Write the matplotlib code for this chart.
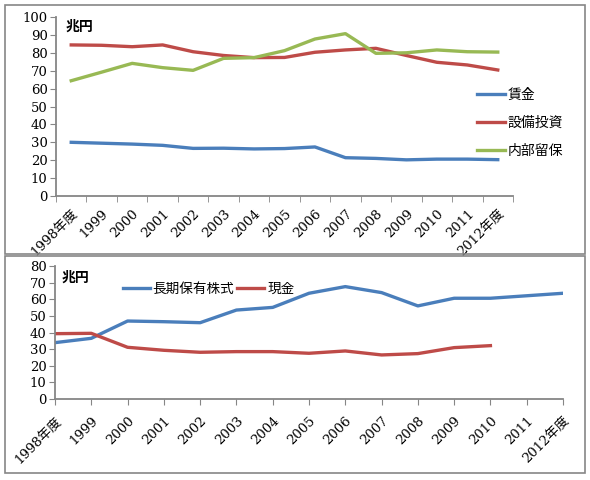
import matplotlib
matplotlib.use('Agg')
import matplotlib.pyplot as plt
from matplotlib.patches import Rectangle

plt.rcParams['font.family'] = ['DejaVu Serif', 'Noto Sans CJK JP']

years = ['1998年度', '1999', '2000', '2001', '2002', '2003', '2004', '2005',
         '2006', '2007', '2008', '2009', '2010', '2011', '2012年度']

# upper chart
wages = [30.0, 29.5, 29.0, 28.3, 26.6, 26.7, 26.3, 26.5, 27.4, 21.4, 21.0, 20.2, 20.6, 20.6, 20.3]
capex = [84.4, 84.2, 83.4, 84.4, 80.6, 78.5, 77.3, 77.4, 80.3, 81.6, 82.5, 78.5, 74.7, 73.2, 70.4]
retained = [64.4, 69.2, 74.1, 71.7, 70.2, 76.9, 77.3, 81.2, 87.7, 90.7, 79.7, 80.0, 81.6, 80.6, 80.4]

# lower chart
stocks = [33.9, 36.5, 46.9, 46.5, 45.9, 53.5, 55.1, 63.6, 67.6, 64.0, 56.0, 60.6, 60.6, 62.1, 63.6]
cash = [39.3, 39.5, 31.1, 29.3, 28.1, 28.5, 28.5, 27.5, 28.9, 26.5, 27.3, 30.9, 32.1]

BLUE = '#4A7EBB'
RED = '#BE4B48'
GREEN = '#98B954'
GRAY = '#868686'
W, H = 590, 480
LW = 2.4

fig = plt.figure(figsize=(W / 100, H / 100), dpi=100)


def fbox(x0, y0, x1, y1):
    # pixel box (top-left origin) -> figure fraction rect
    return [x0 / W, 1 - y1 / H, (x1 - x0) / W, (y1 - y0) / H]


for (x0, y0, x1, y1) in [(5, 5, 585, 254), (5, 256, 585, 473)]:
    b = fbox(x0, y0, x1, y1)
    fig.patches.append(Rectangle((b[0], b[1]), b[2], b[3], transform=fig.transFigure,
                                 fill=False, edgecolor=GRAY, linewidth=1.2))


def style(ax):
    for s in ['top', 'right']:
        ax.spines[s].set_visible(False)
    for s in ['left', 'bottom']:
        ax.spines[s].set_color(GRAY)
        ax.spines[s].set_linewidth(1.3)
    ax.tick_params(axis='y', direction='out', length=4, color=GRAY, labelsize=9.5, pad=2)
    ax.tick_params(axis='x', which='both', direction='out', color=GRAY, labelsize=9.5)
    ax.patch.set_alpha(0)


# ---- upper chart
ax1 = fig.add_axes(fbox(56, 17, 513, 196))
idx = list(range(len(years)))
ax1.plot(idx, wages, color=BLUE, lw=LW, label='賃金')
ax1.plot(idx, capex, color=RED, lw=LW, label='設備投資')
ax1.plot(idx, retained, color=GREEN, lw=LW, label='内部留保')
ax1.set_xlim(-0.5, len(years) - 0.5)
ax1.set_ylim(0, 100)
ax1.set_yticks(range(0, 101, 10))
ax1.set_xticks(idx)
ax1.set_xticks([i - 0.5 for i in range(len(years) + 1)], minor=True)
ax1.set_xticklabels(years, rotation=45, ha='right', rotation_mode='anchor')
style(ax1)
ax1.tick_params(axis='x', which='major', length=0, pad=8)
ax1.tick_params(axis='x', which='minor', length=4)
ax1.text(66 / W, 1 - 27 / H, '兆円', transform=fig.transFigure, fontsize=10,
         fontweight='bold', family=['Noto Sans CJK JP'], va='center')
ax1.legend(loc='upper left', bbox_to_anchor=(470 / W, 1 - 81 / H),
           bbox_transform=fig.transFigure, frameon=False,
           handlelength=2.0, handletextpad=0.2, labelspacing=1.0, borderpad=0,
           prop={'family': ['Noto Sans CJK JP'], 'size': 10})

# ---- lower chart
ax2 = fig.add_axes(fbox(55, 266, 563, 399))
ax2.plot(idx, stocks, color=BLUE, lw=LW, label='長期保有株式')
ax2.plot(idx[:len(cash)], cash, color=RED, lw=LW, label='現金')
ax2.set_xlim(0, len(years) - 1)
ax2.set_ylim(0, 80)
ax2.set_yticks(range(0, 81, 10))
ax2.set_xticks(idx)
ax2.set_xticklabels(years, rotation=45, ha='right', rotation_mode='anchor')
style(ax2)
ax2.tick_params(axis='x', length=4, pad=7)
ax2.text(62 / W, 1 - 278 / H, '兆円', transform=fig.transFigure, fontsize=10,
         fontweight='bold', family=['Noto Sans CJK JP'], va='center')
ax2.legend(loc='upper left', bbox_to_anchor=(116 / W, 1 - 275 / H),
           bbox_transform=fig.transFigure, frameon=False, ncol=2,
           handlelength=2.0, handletextpad=0.2, columnspacing=0.2, borderpad=0,
           prop={'family': ['Noto Sans CJK JP'], 'size': 9.8})

fig.savefig('out.png', dpi=100)
